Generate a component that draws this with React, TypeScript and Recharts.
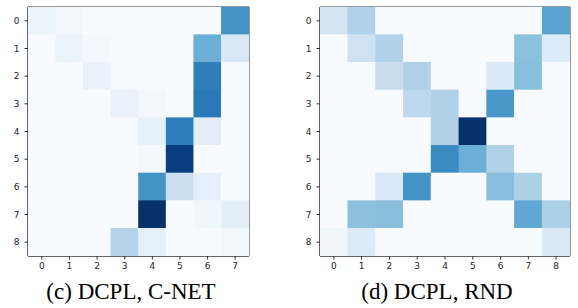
import React from 'react';
import { ScatterChart, Scatter, XAxis, YAxis, ReferenceArea } from 'recharts';

// intensity per cell (0..1), rows top to bottom
const cnetMatrix: number[][] = [
  [0.06, 0.03, 0, 0, 0, 0, 0, 0.62],
  [0, 0.06, 0.02, 0, 0, 0, 0.5, 0.16],
  [0, 0, 0.07, 0, 0, 0, 0.7, 0],
  [0, 0, 0, 0.07, 0.02, 0, 0.72, 0],
  [0, 0, 0, 0, 0.08, 0.7, 0.1, 0],
  [0, 0, 0, 0, 0.02, 0.95, 0, 0],
  [0, 0, 0, 0, 0.62, 0.22, 0.09, 0],
  [0, 0, 0, 0, 1.0, 0, 0.04, 0.1],
  [0, 0, 0, 0.3, 0.09, 0, 0, 0.03],
];

const rndMatrix: number[][] = [
  [0.17, 0.32, 0, 0, 0, 0, 0, 0, 0.55],
  [0, 0.2, 0.32, 0, 0, 0, 0, 0.42, 0.13],
  [0, 0, 0.23, 0.32, 0, 0, 0.14, 0.43, 0],
  [0, 0, 0, 0.27, 0.32, 0, 0.6, 0, 0],
  [0, 0, 0, 0, 0.32, 1.0, 0, 0, 0],
  [0, 0, 0, 0, 0.65, 0.5, 0.32, 0, 0],
  [0, 0, 0.14, 0.62, 0, 0, 0.43, 0.33, 0],
  [0, 0.42, 0.43, 0, 0, 0, 0, 0.53, 0.33],
  [0.04, 0.13, 0, 0, 0, 0, 0, 0, 0.14],
];

const cnetCols = [0, 1, 2, 3, 4, 5, 6, 7];
const rndCols = [0, 1, 2, 3, 4, 5, 6, 7, 8];
const rowTicks = [0, 1, 2, 3, 4, 5, 6, 7, 8];

const BLUES = ['#f7fbff', '#deebf7', '#c6dbef', '#9ecae1', '#6baed6', '#4292c6', '#2171b5', '#08519c', '#08306b'];

const hexToRgb = (h: string) => [1, 3, 5].map((i) => parseInt(h.slice(i, i + 2), 16));

const blues = (t: number) => {
  const p = Math.max(0, Math.min(1, t)) * (BLUES.length - 1);
  const i = Math.min(Math.floor(p), BLUES.length - 2);
  const f = p - i;
  const a = hexToRgb(BLUES[i]);
  const b = hexToRgb(BLUES[i + 1]);
  const c = a.map((v, k) => Math.round(v + (b[k] - v) * f));
  return `rgb(${c[0]},${c[1]},${c[2]})`;
};

const toCells = (m: number[][]) =>
  m.flatMap((row, y) => row.map((v, x) => ({ x, y, v })));

const tickStyle = { fontSize: 9, fill: '#262626', fontFamily: 'DejaVu Sans' };

interface HeatmapProps {
  matrix: number[][];
  cols: number[];
  width: number;
  height: number;
  marginRight: number;
}

const Heatmap: React.FC<HeatmapProps> = ({ matrix, cols, width, height, marginRight }) => {
  const yAxisWidth = 28;
  const xAxisHeight = 19;
  const top = 7;
  const plotW = width - yAxisWidth - marginRight;
  const plotH = height - top - xAxisHeight;
  const cw = plotW / cols.length;
  const ch = plotH / matrix.length;

  const cellShape = (props: any) => {
    const { cx, cy, payload } = props;
    return (
      <rect
        x={cx - cw / 2 - 0.3}
        y={cy - ch / 2 - 0.3}
        width={cw + 0.6}
        height={ch + 0.6}
        fill={blues(payload.v)}
      />
    );
  };

  return (
    <ScatterChart width={width} height={height} margin={{ top, right: marginRight, bottom: 0, left: 0 }}>
      <XAxis
        type="number"
        dataKey="x"
        domain={[-0.5, cols.length - 0.5]}
        ticks={cols}
        allowDataOverflow
        height={xAxisHeight}
        tickSize={3.5}
        tickMargin={3.5}
        tick={tickStyle}
        stroke="#333"
      />
      <YAxis
        type="number"
        dataKey="y"
        domain={[-0.5, matrix.length - 0.5]}
        ticks={rowTicks.slice(0, matrix.length)}
        reversed
        allowDataOverflow
        width={yAxisWidth}
        tickSize={3.5}
        tickMargin={5}
        tick={tickStyle}
        stroke="#333"
      />
      <Scatter data={toCells(matrix)} shape={cellShape} isAnimationActive={false} />
      <ReferenceArea
        x1={-0.5}
        x2={cols.length - 0.5}
        y1={-0.5}
        y2={matrix.length - 0.5}
        fill="none"
        fillOpacity={0}
        stroke="#333"
        strokeWidth={1}
        ifOverflow="visible"
      />
    </ScatterChart>
  );
};

const captionStyle: React.CSSProperties = {
  position: 'absolute',
  top: 280,
  width: 260,
  textAlign: 'center',
  fontFamily: 'Liberation Serif',
  fontSize: 23,
  lineHeight: '24px',
  color: '#000',
  whiteSpace: 'nowrap',
};

export default function App() {
  return (
    <div style={{ position: 'absolute', left: 0, top: 0, width: 578, height: 308, background: '#fff', overflow: 'hidden' }}>
      <div style={{ position: 'absolute', left: 0, top: 0 }}>
        <Heatmap matrix={cnetMatrix} cols={cnetCols} width={260} height={275} marginRight={11} />
      </div>
      <div style={{ position: 'absolute', left: 292, top: 0 }}>
        <Heatmap matrix={rndMatrix} cols={rndCols} width={286} height={275} marginRight={8} />
      </div>
      <div style={{ ...captionStyle, left: 131 - 130 }}>(c) DCPL, C-NET</div>
      <div style={{ ...captionStyle, left: 437 - 130 }}>(d) DCPL, RND</div>
    </div>
  );
}
